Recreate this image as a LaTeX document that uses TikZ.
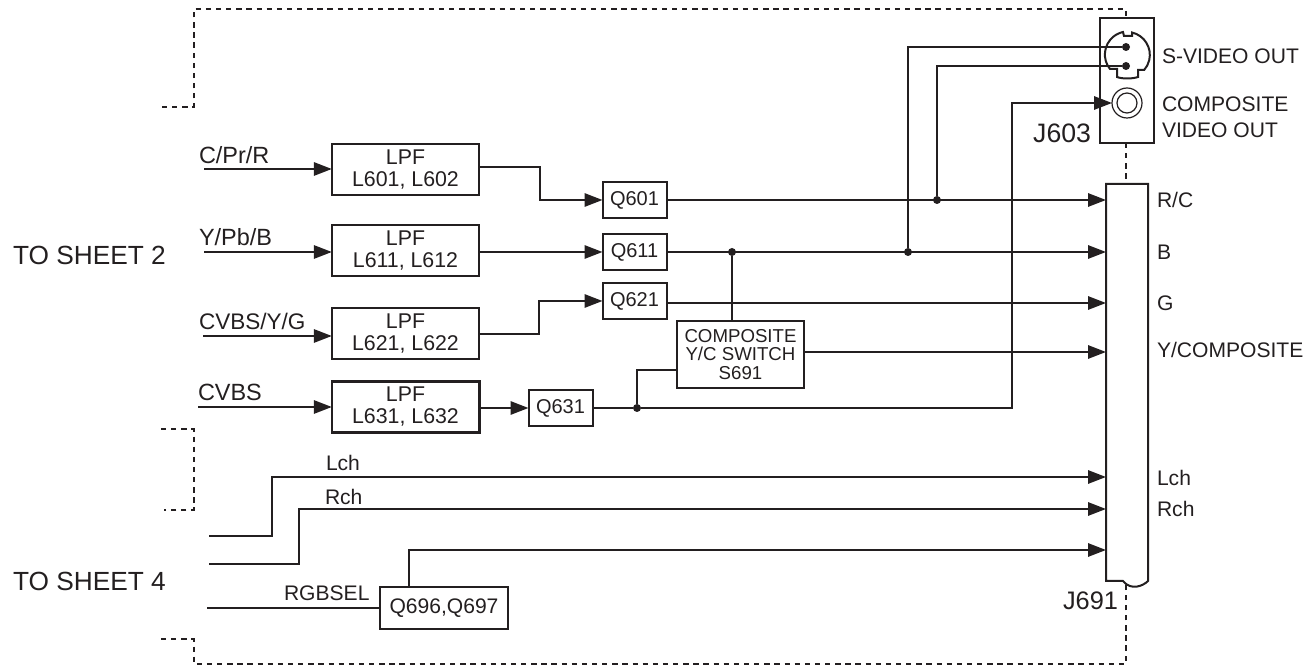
\documentclass[tikz,border=0pt]{standalone}
\usepackage{fontspec}
\setmainfont{Liberation Sans}
\usetikzlibrary{arrows.meta,calc}
\definecolor{ink}{HTML}{231F20}
\newcommand{\fs}[2][]{\fontsize{#2}{#2}\selectfont}
\tikzset{
  x=0.75pt,y=-0.75pt,
  every node/.style={text=ink,inner sep=0pt,outer sep=0pt},
  wire/.style={draw=ink,line width=1.5pt,line join=miter},
  sig/.style={wire,-{Triangle[length=13.5pt,width=10pt]}},
  dash line/.style={draw=ink,line width=1.4pt,dash pattern=on 4pt off 3.6pt},
  lbox/.style={draw=ink,line width=1.5pt,minimum width=110.5pt,minimum height=38pt,align=center,font=\fontsize{16}{16.5}\selectfont},
  qbox/.style={draw=ink,line width=1.5pt,minimum width=48pt,minimum height=27pt,font=\fs{15}},
  lab/.style={anchor=west,font=\fs{15.8}},
  inlab/.style={anchor=west,font=\fs{17.6}},
  dotn/.style={circle,fill=ink,minimum size=6pt},
}
\begin{document}
\begin{tikzpicture}
\useasboundingbox (0,0) rectangle (1315,666);
% dashed enclosure
\draw[dash line] (162,107) -- (194,107) -- (194,9) -- (1126,9) -- (1126,18);
\draw[dash line] (1126,143) -- (1126,184);
\draw[dash line] (161,429) -- (194,429) -- (194,510) -- (164,510);
\draw[dash line] (161,639) -- (194,639) -- (194,664) -- (1126,664) -- (1126,585);
% J603
\node[draw=ink,line width=1.5pt,minimum width=40.5pt,minimum height=93.75pt] (j603) at (1127,80.5) {};
\draw[wire] (1123,32) -- (1124,36) -- (1132,36) -- (1132,32.5)
  arc[start angle=-77,end angle=41,radius=23] -- (1138,70) -- (1138,77)
  .. controls (1132,79) and (1122,79) .. (1117,77) -- (1117,69) -- (1110,69)
  arc[start angle=141,end angle=260,radius=23] -- cycle;
\node[dotn] (pinc) at (1126,47) {};
\node[dotn] (piny) at (1126,66) {};
\node[circle,draw=ink,line width=0.9pt,minimum size=22.5pt] (comp) at (1127,103) {};
\node[circle,draw=ink,line width=0.9pt,minimum size=15pt] (compi) at (1127,103) {};
\node[lab] at (1162,56) {S-VIDEO OUT};
\node[lab] at (1162,104.5) {COMPOSITE};
\node[lab] at (1162,130) {VIDEO OUT};
\node[anchor=east,font=\fs{20}] at (1091,133) {J603};
% J691
\draw[wire,fill=white] (1106,184) -- (1148,184) -- (1148,581) .. controls (1143,586) and (1131,591) .. (1123,581) -- (1106,581) -- cycle;
\node[anchor=east,font=\fs{19}] at (1118,601) {J691};
\coordinate (pRC) at (1106,200);
\coordinate (pB) at (1106,252);
\coordinate (pG) at (1106,303);
\coordinate (pY) at (1106,352);
\coordinate (pL) at (1106,477);
\coordinate (pR) at (1106,509);
\coordinate (pS) at (1106,550);
\node[lab] at (1157,200) {R/C};
\node[lab] at (1157,252) {B};
\node[lab] at (1157,303) {G};
\node[lab] at (1157,350) {Y/COMPOSITE};
\node[lab] at (1157,478) {Lch};
\node[lab] at (1157,509) {Rch};
% left captions
\node[anchor=west,font=\fs{19.7}] at (13,255) {TO SHEET 2};
\node[anchor=west,font=\fs{19.7}] at (13,581) {TO SHEET 4};
% LPF boxes
\node[lbox] (l60) at (405.5,169.5) {LPF\\L601, L602};
\node[lbox] (l61) at (405.5,250.5) {LPF\\L611, L612};
\node[lbox] (l62) at (405.5,333.5) {LPF\\L621, L622};
\node[lbox,line width=2pt] (l63) at (405.5,407) {LPF\\L631, L632};
% Q boxes
\node[qbox] (q601) at (634.5,200) {Q601};
\node[qbox] (q611) at (634.5,252) {Q611};
\node[qbox] (q621) at (634.5,301) {Q621};
\node[qbox] (q631) at (560.5,408) {Q631};
\node[draw=ink,line width=1.5pt,minimum width=95pt,minimum height=50.25pt,align=center,font=\fs{14}] (sw) at (740.5,354.5) {COMPOSITE\\Y/C SWITCH\\S691};
\node[draw=ink,line width=1.5pt,minimum width=96pt,minimum height=31pt,font=\fs{15.8}] (q696) at (444,608) {Q696,Q697};
% inputs
\coordinate (i1) at (204,169);
\coordinate (i2) at (204,252);
\coordinate (i3) at (203,336);
\coordinate (i4) at (198,407);
\coordinate (i5) at (209,536);
\coordinate (i6) at (209,564);
\coordinate (i7) at (207,608);
\node[inlab] at (199,155) {C/Pr/R};
\node[inlab] at (199,237) {Y/Pb/B};
\node[inlab,font=\fs{16.9}] at (199,321) {CVBS/Y/G};
\node[inlab] at (198,392) {CVBS};
\node[lab] at (326,463) {Lch};
\node[lab] at (325,497) {Rch};
\node[lab] at (284,593) {RGBSEL};
\draw[sig] (i1) -- (i1 -| l60.west);
\draw[sig] (i2) -- (i2 -| l61.west);
\draw[sig] (i3) -- (i3 -| l62.west);
\draw[sig] (i4) -- (i4 -| l63.west);
\draw[sig] (l60.east |- 0,167) -- (540,167) -- (540,200) -- (q601.west);
\draw[sig] (l61.east |- q611.west) -- (q611.west);
\draw[sig] (l62.east |- 0,334) -- (539,334) -- (539,301) -- (q621.west);
\draw[sig] (l63.east |- q631.west) -- (q631.west);
\draw[sig] (q601.east) -- (pRC);
\draw[sig] (q611.east) -- (pB);
\draw[sig] (q621.east |- pG) -- (pG);
\draw[sig] (sw.east |- pY) -- (pY);
% junctions
\node[dotn] (d1) at (937,200) {};
\node[dotn] (d2) at (908,252) {};
\node[dotn] (d3) at (732,252) {};
\node[dotn] (d4) at (637,408) {};
\draw[wire] (d1) -- (d1 |- piny) -- (piny);
\draw[wire] (d2) -- (d2 |- pinc) -- (pinc);
\draw[wire] (d3) -- (d3 |- sw.north);
\draw[wire] (sw.west |- 0,370) -- (d4 |- 0,370) -- (d4);
\draw[wire] (q631.east) -- (d4);
\draw[sig] (d4) -- (1012,408) -- (1012,103) -- (comp.west);
% audio
\draw[sig] (i5) -- (272,536) -- (272,477) -- (pL);
\draw[sig] (i6) -- (299,564) -- (299,509) -- (pR);
\draw[wire] (i7) -- (q696.west);
\draw[sig] (q696.north -| 409,0) -- (409,550) -- (pS);
\end{tikzpicture}
\end{document}
